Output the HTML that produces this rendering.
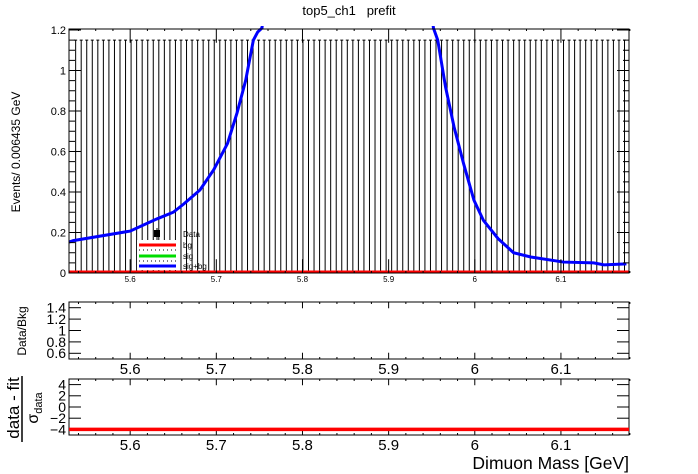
<!DOCTYPE html>
<html><head><meta charset="utf-8"><style>
html,body{margin:0;padding:0;background:#fff;}
svg{display:block;font-family:"Liberation Sans",sans-serif;}
</style></head><body>
<svg id="c" width="698" height="474" viewBox="0 0 698 474">
<defs><clipPath id="clipMain"><rect x="69" y="26" width="560" height="247"/></clipPath></defs>
<text x="349" y="15" font-size="13" text-anchor="middle">top5_ch1&#160;&#160;&#160;prefit</text>
<text transform="translate(20,152) rotate(-90)" font-size="12" text-anchor="middle">Events/ 0.006435 GeV</text>
<text transform="translate(26,331) rotate(-90)" font-size="12" text-anchor="middle">Data/Bkg</text>
<g>
<text transform="translate(19,408) rotate(-90)" font-size="17" text-anchor="middle">data - fit</text>
<line x1="22" y1="376" x2="22" y2="442" stroke="#000" stroke-width="1.5"/>
<text transform="translate(38,408) rotate(-90)" font-size="16" text-anchor="middle">σ<tspan font-size="11" dy="4">data</tspan></text>
</g>
<text x="629" y="469" font-size="17.5" text-anchor="end">Dimuon Mass [GeV]</text>
<g id="g"></g>
</svg>
<script>
const massPts=[5.529,5.534,5.600,5.631,5.650,5.662,5.681,5.697,5.713,5.724,5.734,5.743,5.748,5.753,5.85,5.952,5.957,5.966,5.976,5.987,5.999,6.010,6.027,6.045,6.065,6.103,6.138,6.150,6.176];
const sigBgVals=[0.153,0.16,0.207,0.267,0.30,0.34,0.41,0.51,0.64,0.79,0.95,1.15,1.19,1.21,5.0,1.21,1.15,0.92,0.72,0.54,0.36,0.26,0.17,0.10,0.079,0.054,0.05,0.04,0.045];
const bgVals=[0.004,0.004];
const bgMass=[5.529,6.179];
const nBins=100;
const binWidth=0.006435;
const xStart=5.5335;
const dataVals=new Array(nBins).fill(0);
const dataErrHi=new Array(nBins).fill(1.15);
const xTicks=[5.6,5.7,5.8,5.9,6.0,6.1];
const xTickLabels=["5.6","5.7","5.8","5.9","6","6.1"];
const yTicks=[0,0.2,0.4,0.6,0.8,1,1.2];
const yTickLabels=["0","0.2","0.4","0.6","0.8","1","1.2"];
const ratioTicks=[0.6,0.8,1,1.2,1.4];
const ratioLabels=["0.6","0.8","1","1.2","1.4"];
const pullTicks=[-4,-2,0,2,4];
const pullLabels=["\u22124","\u22122","0","2","4"];
const pullVals=[-4,-4];

const NS="http://www.w3.org/2000/svg";
const g=document.getElementById('g');
const L=69,R=629;
const X=m=>L+(m-5.529)/(6.179-5.529)*(R-L);
const Y=v=>273-v*202.5;
const YR=v=>359-(v-0.5)*57;
const YP=v=>435-(v+5)*5.6;
function mk(t,a,p){const e=document.createElementNS(NS,t);for(const k in a)e.setAttribute(k,a[k]);(p||g).appendChild(e);return e;}

const dg=mk('g',{'clip-path':'url(#clipMain)'});


for(let i=0;i<nBins;i++){
  const c=xStart+(i+0.5)*binWidth;const x=X(c);
  const l=mk('line',{x1:x,y1:Y(dataVals[i]),x2:x,y2:Y(dataVals[i]+dataErrHi[i]),stroke:'#000','stroke-width':1},dg);
  
  
  mk('line',{x1:x-1.5,y1:Y(dataVals[i]+dataErrHi[i]),x2:x+1.5,y2:Y(dataVals[i]+dataErrHi[i]),stroke:'#000','stroke-width':1},dg);
}
const bg=mk('polyline',{points:bgMass.map((m,i)=>X(m)+','+Y(bgVals[i])).join(' '),fill:'none',stroke:'#ff0000','stroke-width':3.5,'clip-path':'url(#clipMain)'});


const sb=mk('polyline',{points:massPts.map((m,i)=>X(m)+','+Y(sigBgVals[i])).join(' '),fill:'none',stroke:'#0000ff','stroke-width':3,'clip-path':'url(#clipMain)'});



function frame(y1,y2,name){const f=mk('rect',{x:L,y:y1,width:R-L,height:y2-y1,fill:'none',stroke:'#000','stroke-width':1});

}
frame(29,273,'main-frame');frame(302,359,'ratio-frame');frame(379,435,'pull-frame');

function xt(y1,y2,labY,fs,name){
  for(let m=5.54;m<6.18;m+=0.02){const x=X(m);const maj=Math.abs(m*10-Math.round(m*10))<0.01;
    const h=maj?(y2-y1)*0.04+4:2;
    mk('line',{x1:x,y1:y2,x2:x,y2:y2-h,stroke:'#000'});mk('line',{x1:x,y1:y1,x2:x,y2:y1+h,stroke:'#000'});}
  xTicks.forEach((t,i)=>{const e=mk('text',{x:X(t),y:labY,'font-size':fs,'text-anchor':'middle'});e.textContent=xTickLabels[i];
    
    });
}
xt(29,273,282,8,'x-tick-label');xt(302,359,374,15,'ratio-x-tick-label');xt(379,435,450,15,'pull-x-tick-label');
function yt(ticks,labels,f,fs,name,minor){
  ticks.forEach((t,i)=>{const y=f(t);mk('line',{x1:L,y1:y,x2:L+12,y2:y,stroke:'#000'});mk('line',{x1:R,y1:y,x2:R-12,y2:y,stroke:'#000'});
    const e=mk('text',{x:L-3,y:y+fs*0.35,'font-size':fs,'text-anchor':'end'});e.textContent=labels[i];
    
    });
  minor.forEach(t=>{const y=f(t);mk('line',{x1:L,y1:y,x2:L+6,y2:y,stroke:'#000'});mk('line',{x1:R,y1:y,x2:R-6,y2:y,stroke:'#000'});});
}
const mn=[];for(let v=0.05;v<1.2;v+=0.05)mn.push(v);
yt(yTicks,yTickLabels,Y,11,'y-tick-label',mn);
yt(ratioTicks,ratioLabels,YR,14,'ratio-y-tick-label',[]);
yt(pullTicks,pullLabels,YP,14,'pull-y-tick-label',[]);
const pl=mk('line',{x1:L,y1:YP(pullVals[0]),x2:R,y2:YP(pullVals[1]),stroke:'#ff0000','stroke-width':3.5});



const lg=mk('g',{});


mk('rect',{x:137,y:240,width:42,height:30,fill:'#fff'},lg);
mk('rect',{x:154,y:230,width:6,height:7,fill:'#000'},lg);
mk('line',{x1:157,y1:228,x2:157,y2:240,stroke:'#000'},lg);
const ent=[[245,'#ff0000','bg'],[256,'#00dd00','sig'],[266,'#0000ff','sig+bg']];
[[250],[261]].forEach(a=>mk('line',{x1:139,y1:a[0],x2:176,y2:a[0],stroke:'#000','stroke-dasharray':'1 3'},lg));
ent.forEach(e=>{mk('line',{x1:139,y1:e[0],x2:176,y2:e[0],stroke:e[1],'stroke-width':3},lg);
  const t=mk('text',{x:183,y:e[0]+3,'font-size':8},lg);t.textContent=e[2];
  
  });
const dt=mk('text',{x:183,y:237,'font-size':8},lg);dt.textContent='Data';


</script>
</body></html>
